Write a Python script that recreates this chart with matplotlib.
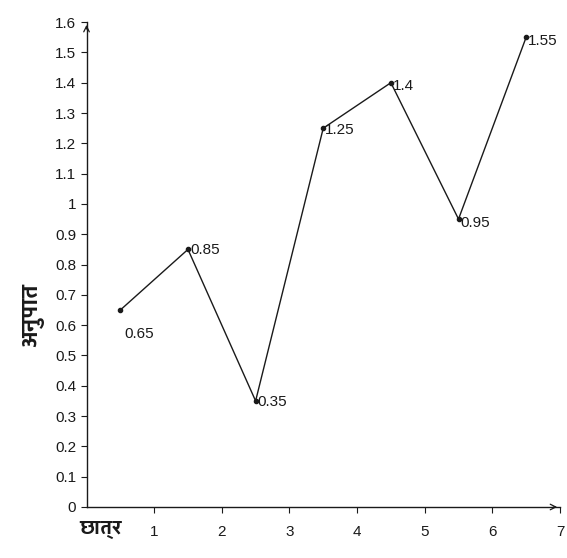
import matplotlib
matplotlib.use("Agg")
import matplotlib.pyplot as plt
from matplotlib import font_manager
from matplotlib.ft2font import FT2Font

# --- Data ---
students = [0.5, 1.5, 2.5, 3.5, 4.5, 5.5, 6.5]
ratio = [0.65, 0.85, 0.35, 1.25, 1.4, 0.95, 1.55]
x_ticks = [1, 2, 3, 4, 5, 6, 7]
y_ticks = [0, 0.1, 0.2, 0.3, 0.4, 0.5, 0.6, 0.7, 0.8, 0.9, 1, 1.1, 1.2, 1.3, 1.4, 1.5, 1.6]
x_title = "छात्र"
y_title = "अनुपात"

# label offsets (points) for each value label
label_offsets = [(3, -17), (1.5, -0.5), (1.5, -1), (1.5, -1), (1.5, -2.5), (1.5, -2.5), (1.5, -2.5)]


def find_font(ch):
    # any installed font carrying the glyph, bold faces first
    found = []
    for f in font_manager.fontManager.ttflist:
        try:
            if ord(ch) in FT2Font(f.fname).get_charmap():
                w = f.weight if isinstance(f.weight, int) else 400
                found.append((w, f.name))
        except Exception:
            pass
    if not found:
        return None
    found.sort(reverse=True)
    return found[0][1]


deva = find_font("छ")
title_family = [deva, "DejaVu Sans"] if deva else ["DejaVu Sans"]

plt.rcParams["font.family"] = ["Liberation Sans", "DejaVu Sans"]

fig = plt.figure(figsize=(5.67, 5.58), dpi=100)
ax = fig.add_axes([0.1526, 0.0914, 0.835, 0.869])

ax.plot(students, ratio, color="#1a1a1a", lw=1.0, marker="o", ms=3, mfc="#1a1a1a", mec="#1a1a1a")
for xv, yv, off in zip(students, ratio, label_offsets):
    ax.annotate(f"{yv:g}", (xv, yv), xytext=off, textcoords="offset points",
                fontsize=11, color="#1a1a1a", ha="left", va="center")

ax.set_xlim(0, 7)
ax.set_ylim(0, 1.6)
ax.set_xticks(x_ticks)
ax.set_yticks(y_ticks)
ax.set_yticklabels([f"{v:g}" for v in y_ticks])
ax.tick_params(axis="both", labelsize=11, colors="#1a1a1a", length=4, width=0.8)
ax.tick_params(axis="x", pad=9)

for s in ["top", "right"]:
    ax.spines[s].set_visible(False)
for s in ["left", "bottom"]:
    ax.spines[s].set_linewidth(1.0)
    ax.spines[s].set_color("#1a1a1a")

# arrow heads on the axes
ax.annotate("", xy=(0, 1.0), xytext=(0, 0.98), xycoords="axes fraction",
            arrowprops=dict(arrowstyle="->", color="#1a1a1a", lw=0.9))
ax.annotate("", xy=(1.0, 0), xytext=(0.98, 0), xycoords="axes fraction",
            arrowprops=dict(arrowstyle="->", color="#1a1a1a", lw=0.9))

fig.text(0.058, 0.435, y_title, rotation=90, fontsize=17, fontweight="bold",
         ha="center", va="center", family=title_family, color="#1a1a1a")
fig.text(0.177, 0.05, x_title, fontsize=15, fontweight="bold",
         ha="center", va="center", family=title_family, color="#1a1a1a")

fig.savefig("out.png", dpi=100)
